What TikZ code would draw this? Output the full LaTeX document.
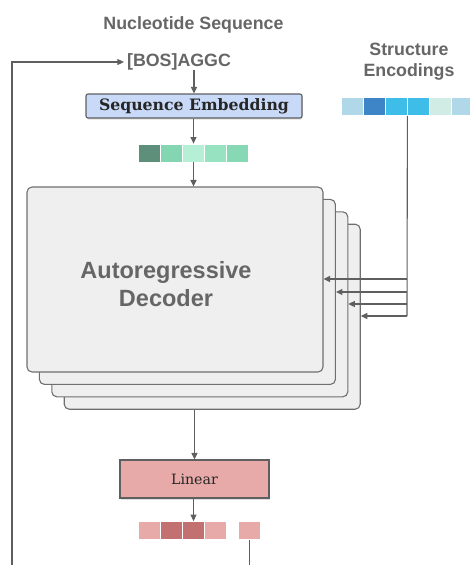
\documentclass[tikz,border=0pt]{standalone}
\usepackage{fontspec}
\setmainfont{Liberation Sans}
\newfontfamily\slab{DejaVu Serif}
\usetikzlibrary{arrows.meta,shadows,calc}
\definecolor{lbl}{HTML}{666666}
\definecolor{ln}{HTML}{5F5F5F}
\definecolor{embfill}{HTML}{C9DAF8}
\definecolor{decfill}{HTML}{EFEFEF}
\definecolor{linfill}{HTML}{E8A9A9}
\definecolor{gA}{HTML}{5E8F7A}
\definecolor{gB}{HTML}{84D6B2}
\definecolor{gC}{HTML}{B5EFD6}
\definecolor{gD}{HTML}{97E2C1}
\definecolor{gE}{HTML}{86D9B4}
\definecolor{bA}{HTML}{B0D8E8}
\definecolor{bB}{HTML}{3D85C6}
\definecolor{bC}{HTML}{3DBDE8}
\definecolor{bD}{HTML}{D0ECE4}
\definecolor{rA}{HTML}{E8A9A9}
\definecolor{rB}{HTML}{C27070}
\tikzset{
  lab/.style={text=lbl,font=\fontsize{17.8}{21}\selectfont\bfseries,inner sep=0pt,align=center},
  cell/.style={draw=white,line width=0.8pt,minimum width=22pt,minimum height=18pt,inner sep=0pt},
  decbox/.style={draw=ln!90,line width=1.1pt,fill=decfill,rounded corners=5pt,minimum width=296pt,minimum height=185pt,inner sep=0pt},
  arr/.style={draw=ln,line width=1.1pt,-{Triangle[length=6.5pt,width=6pt]}},
  plain/.style={draw=ln,line width=1.1pt},
  shad/.style={drop shadow={opacity=0.25,shadow xshift=0.6pt,shadow yshift=-1.6pt}}
}
\begin{document}
\begin{tikzpicture}[x=1pt,y=-1pt]
\useasboundingbox (0,0) rectangle (470,565);
% labels
\node[lab] (title) at (193.5,25) {Nucleotide Sequence};
\node[lab,inner xsep=3pt] (bos) at (179,62) {[BOS]AGGC};
\node[lab] (struct) at (409,61.5) {Structure\\Encodings};
% embedding
\node[draw=ln,line width=1.1pt,fill=embfill,rounded corners=2pt,minimum width=216pt,minimum height=24pt,inner sep=0pt,shad,font=\slab\fontsize{15.7}{17}\selectfont\bfseries,text=black!85] (emb) at (194,106) {Sequence Embedding};
% green cells
\node[cell,fill=gA] (g1) at (149.5,153) {};
\node[cell,fill=gB] (g2) at (171.5,153) {};
\node[cell,fill=gC] (g3) at (193.5,153) {};
\node[cell,fill=gD] (g4) at (215.5,153) {};
\node[cell,fill=gE] (g5) at (237.5,153) {};
% blue cells
\node[cell,fill=bA] (s1) at (352,106.5) {};
\node[cell,fill=bB] (s2) at (374,106.5) {};
\node[cell,fill=bC] (s3) at (396,106.5) {};
\node[cell,fill=bC] (s4) at (418,106.5) {};
\node[cell,fill=bD] (s5) at (440,106.5) {};
\node[cell,fill=bA] (s6) at (462,106.5) {};
% decoder stack
\node[decbox] (d4) at (212.2,316.7) {};
\node[decbox] (d3) at (199.8,304.3) {};
\node[decbox] (d2) at (187.4,291.9) {};
\node[decbox] (d1) at (175,279.5) {};
\node[text=lbl,font=\fontsize{23.5}{28}\selectfont\bfseries,align=center,inner sep=0pt] (dtext) at (166,284) {Autoregressive\\Decoder};
% linear
\node[draw=ln,line width=1.1pt,fill=linfill,minimum width=149pt,minimum height=38pt,inner sep=0pt,shad,font=\slab\fontsize{14.2}{16}\selectfont,text=black!85] (lin) at (194.5,479) {Linear};
% red cells
\node[cell,fill=rA] (r1) at (149.5,530.5) {};
\node[cell,fill=rB] (r2) at (171.5,530.5) {};
\node[cell,fill=rB] (r3) at (193.5,530.5) {};
\node[cell,fill=rA] (r4) at (215.5,530.5) {};
\node[cell,fill=rA] (r5) at (249.5,530.5) {};
% coordinates
\coordinate (b1) at (407,279);
\coordinate (b2) at (407,292);
\coordinate (b3) at (407,304);
\coordinate (b4) at (407,316);
\coordinate (fb) at (12,566);
\coordinate (rb) at (249.5,566);
% connectors
\draw[arr] (bos.south -| emb.north) -- (emb.north);
\draw[arr] (emb.south -| g3.north) -- (g3.north);
\draw[arr] (g3.south) -- (g3.south |- d1.north);
\draw[arr] (lin.north |- d4.south) -- (lin.north);
\draw[arr] (lin.south -| r3.north) -- (r3.north);
\draw[plain] (r5.south) -- (rb);
\draw[arr] (fb) |- (bos.west);
\draw[plain] (s3.south east) -- (b4);
\draw[arr] (b1) -- (b1 -| d1.east);
\draw[arr] (b2) -- (b2 -| d2.east);
\draw[arr] (b3) -- (b3 -| d3.east);
\draw[arr] (b4) -- (b4 -| d4.east);
\end{tikzpicture}
\end{document}
